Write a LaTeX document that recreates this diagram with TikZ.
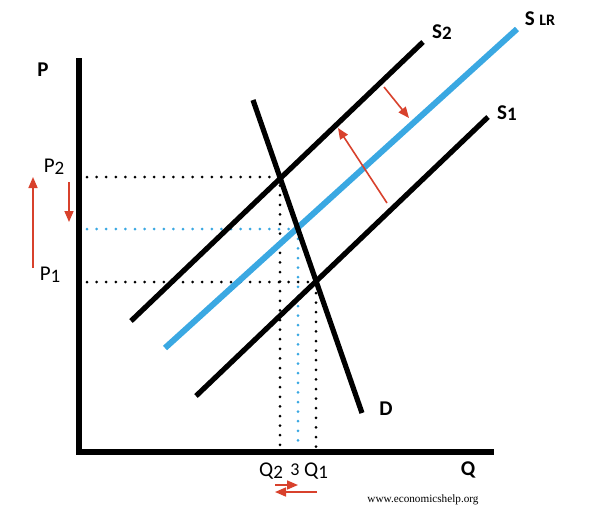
\documentclass[tikz,border=0pt]{standalone}
\usepackage{fontspec}
\setmainfont{Carlito}
\newfontfamily\webfont{Liberation Serif}
\usetikzlibrary{arrows.meta}
\definecolor{SupplyBlue}{HTML}{3AA8E2}
\definecolor{ShiftRed}{HTML}{D8412C}
\tikzset{
  curve/.style={line width=2.6pt},
  axis/.style={line width=3pt},
  guide/.style={line width=1.5pt, line cap=round, dash pattern=on 0pt off 4.8pt},
  movearrow/.style={ShiftRed, line width=0.8pt, -{Triangle[length=5.5pt,width=4.5pt]}},
  lbl/.style={font=\fontsize{10.5}{12}\selectfont, inner sep=0pt},
}
\newcommand{\sublab}[2]{#1{\fontsize{9.5}{10}\selectfont\raisebox{-0.8pt}{#2}}}
\begin{document}
\begin{tikzpicture}[x=0.5pt,y=-0.5pt]
    \useasboundingbox (0,0) rectangle (600,510);
    \foreach \x/\y/\name in {79/58/Ptop,79/452/O,494/452/Qend,
      131/321/SaL,423/42/SaR,165/348/SrL,517/29/SrR,196/396/SbL,488/117/SbR,
      253/100/Dtop,362/413/Dbot} {
     \coordinate (\name) at (\x,\y);
    }
    \foreach \x/\y/\name in {280/177/E2,298/229/E3,316/282/E1,
      87/177/H2,87/229/H3,87/282/H1,280/449/V2,298/449/V3,316/449/V1} {
     \coordinate (\name) at (\x,\y);
    }
    \foreach \x/\y/\name in {33/268/UpA,33/177/UpB,69/182/DnA,69/222/DnB,
      384/87/SdA,409/118/SdB,387/203/SuA,338/128/SuB,
      275/485/RtA,298/485/RtB,317/492/LtA,275/492/LtB} {
     \coordinate (\name) at (\x,\y);
    }
    \draw[guide] (H2) -- (E2) -- (V2);
    \draw[guide] (H1) -- (E1) -- (V1);
    \draw[guide,SupplyBlue] (H3) -- (E3) -- (V3);
    \draw[axis] (Ptop) -- (O) -- (Qend);
    \draw[curve] (SaL) -- (SaR);
    \draw[curve] (SbL) -- (SbR);
    \draw[curve,SupplyBlue,line width=3pt] (SrL) -- (SrR);
    \draw[curve] (Dtop) -- (Dbot);
    \draw[movearrow] (UpA) -- (UpB);
    \draw[movearrow] (DnA) -- (DnB);
    \draw[movearrow] (SdA) -- (SdB);
    \draw[movearrow] (SuA) -- (SuB);
    \draw[movearrow] (RtA) -- (RtB);
    \draw[movearrow] (LtA) -- (LtB);
    \node[lbl,font=\fontsize{10.5}{12}\selectfont\bfseries] (pl) at (43,70) {P};
    \node[lbl,font=\fontsize{10.5}{12}\selectfont\bfseries] (ql) at (468,470) {Q};
    \node[lbl] (p2) at (54,167) {\sublab{P}{2}};
    \node[lbl] (p1) at (50,275) {\sublab{P}{1}};
    \node[lbl] (q2) at (271,471) {\sublab{Q}{2}};
    \node[lbl,font=\fontsize{9}{10}\selectfont] (q3) at (295,470) {3};
    \node[lbl] (q1) at (316,471) {\sublab{Q}{1}};
    \node[lbl,font=\fontsize{10.5}{12}\selectfont\bfseries] (s2) at (442,32) {\sublab{S}{2}};
    \node[lbl,font=\fontsize{10.5}{12}\selectfont\bfseries] (s1) at (507,113) {\sublab{S}{1}};
    \node[lbl,font=\fontsize{10.5}{12}\selectfont\bfseries] (slr) at (540,19) {S {\fontsize{8}{9}\selectfont LR}};
    \node[lbl,font=\fontsize{10.5}{12}\selectfont\bfseries] (dl) at (386,409) {D};
    \node[inner sep=0pt,font=\webfont\fontsize{5.6}{6}\selectfont] (web) at (423,500) {www.economicshelp.org};
\end{tikzpicture}
\end{document}
